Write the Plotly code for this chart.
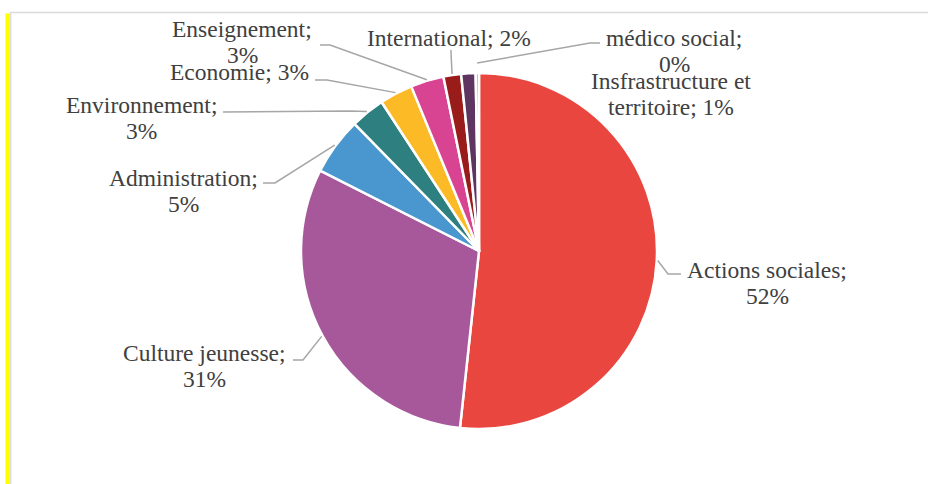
import math
import plotly.graph_objects as go

# ---- data ----
categories = ["Actions sociales", "Culture jeunesse", "Administration", "Environnement",
              "Economie", "Enseignement", "International",
              "Insfrastructure et territoire", "médico social"]
values = [51.6, 30.7, 5.2, 3.1, 3.0, 3.0, 1.6, 1.3, 0.3]
label_lines = [["Actions sociales;", "52%"], ["Culture jeunesse;", "31%"], ["Administration;", "5%"],
               ["Environnement;", "3%"], ["Economie; 3%"], ["Enseignement;", "3%"],
               ["International; 2%"], ["Insfrastructure et", "territoire; 1%"], ["médico social;", "0%"]]
colors = ["#E8463E", "#A6589B", "#4A97CF", "#2E7F80", "#FBBA26", "#D94492",
          "#9A1C1A", "#5E3461", "#8DBAD9"]

# ---- layout constants (pixels) ----
W, H = 928, 484
CX, CY, R = 479, 251, 178
FONT = "'Liberation Serif', 'Times New Roman', Times, serif"
FONT_SIZE = 23.5
LINE_GAP = 26.5
# label block centre positions (px)
label_pos = [(767, 283), (204, 366), (183, 191), (141, 118), (239, 72), (242, 42),
             (449, 38), (671, 94), (674, 51)]
# connector: (end near label, elbow) in px, None = no connector
connectors = [((681, 274), (668, 274)), ((293, 360), (303, 360)), ((263, 183), (275, 183)),
              ((223, 112), (350, 111)), ((315, 80), (327, 80)), ((320, 45), (330, 45)),
              ((451, 50), (451, 53)), None, ((600, 43), (590, 43))]
edge_gap = [1, 1, 1, 1, 1, 1, 1, 0, 10]


def px(x):
    return x / W


def py(y):
    return 1 - y / H


fig = go.Figure(go.Pie(
    labels=categories, values=values, sort=False, direction="clockwise", rotation=0,
    marker=dict(colors=colors, line=dict(color="white", width=2.5)),
    textinfo="none", hoverinfo="label+percent", showlegend=False,
    domain=dict(x=[px(CX - R), px(CX + R)], y=[py(CY + R), py(CY - R)]),
))

shapes = []
total = sum(values)
cum = 0.0
for i, v in enumerate(values):
    mid = (cum + v / 2) / total * 2 * math.pi
    cum += v
    if connectors[i] is None:
        continue
    rr = R + edge_gap[i]
    sx, sy = CX + rr * math.sin(mid), CY - rr * math.cos(mid)
    (ex, ey), (bx, by) = connectors[i]
    path = f"M {px(sx)} {py(sy)} L {px(bx)} {py(by)} L {px(ex)} {py(ey)}"
    shapes.append(dict(type="path", xref="paper", yref="paper", path=path,
                       line=dict(color="#A6A6A6", width=1.5)))

# frame
shapes.append(dict(type="line", xref="paper", yref="paper", x0=px(10), x1=1, y0=py(12.5), y1=py(12.5),
                   line=dict(color="#D9D9D9", width=1.5)))
shapes.append(dict(type="rect", xref="paper", yref="paper", x0=px(5.5), x1=px(10), y0=0, y1=py(13.5),
                   fillcolor="#FFFF00", line=dict(width=0)))
shapes.append(dict(type="line", xref="paper", yref="paper", x0=px(10.8), x1=px(10.8), y0=0, y1=py(12.5),
                   line=dict(color="#D9D9D9", width=1.2)))

annotations = []
for (lx, ly), lines in zip(label_pos, label_lines):
    n = len(lines)
    for k, t in enumerate(lines):
        yy = ly + (k - (n - 1) / 2) * LINE_GAP
        annotations.append(dict(text=t, x=px(lx), y=py(yy), xref="paper", yref="paper",
                                xanchor="center", yanchor="middle", showarrow=False, align="center",
                                font=dict(family=FONT, size=FONT_SIZE, color="#404040")))

fig.update_layout(width=W, height=H, margin=dict(l=0, r=0, t=0, b=0),
                  paper_bgcolor="white", plot_bgcolor="white", font=dict(family=FONT),
                  shapes=shapes, annotations=annotations)
fig.write_html("out.html")
